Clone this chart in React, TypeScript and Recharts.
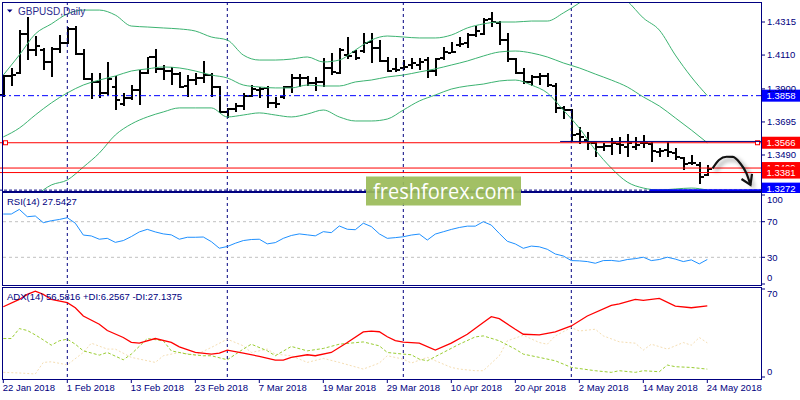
import React from 'react';
import { ComposedChart, Bar, Line, XAxis, YAxis, ReferenceLine } from 'recharts';

const FONT = '"Liberation Sans", Arial, sans-serif';
const NAVY = '#000080';

// ---------------- data ----------------
const tickIdx = [0, 8, 16, 24, 32, 40, 48, 56, 64, 72, 80, 88];
const tickLabels = ['22 Jan 2018', '1 Feb 2018', '13 Feb 2018', '23 Feb 2018', '7 Mar 2018', '19 Mar 2018', '29 Mar 2018', '10 Apr 2018', '20 Apr 2018', '2 May 2018', '14 May 2018', '24 May 2018'];
const separatorIdx = [8, 28, 50, 71];

const opens = [
  1.3862, 1.3980, 1.3999, 1.4241, 1.4141, 1.4141, 1.4067, 1.4148, 1.4185, 1.4272,
  1.4117, 1.3962, 1.3943, 1.3875, 1.3912, 1.3807, 1.3844, 1.3893, 1.3999, 1.4098,
  1.4024, 1.4011, 1.3993, 1.3918, 1.3955, 1.3968, 1.3986, 1.3912, 1.3757, 1.3776,
  1.3794, 1.3856, 1.3893, 1.3906, 1.3813, 1.3850, 1.3912, 1.3968, 1.3968, 1.3937,
  1.3943, 1.4030, 1.3999, 1.4110, 1.4129, 1.4135, 1.4191, 1.4154, 1.4073, 1.4024,
  1.4030, 1.4048, 1.4048, 1.4079, 1.4011, 1.4092, 1.4125, 1.4172, 1.4185, 1.4234,
  1.4241, 1.4334, 1.4309, 1.4203, 1.4086, 1.3999, 1.3943, 1.3974, 1.3980, 1.3918,
  1.3782, 1.3769, 1.3621, 1.3583, 1.3565, 1.3540, 1.3546, 1.3559, 1.3540, 1.3540,
  1.3565, 1.3559, 1.3509, 1.3521, 1.3503, 1.3472, 1.3441, 1.3429, 1.3366,
];
const highs = [
  1.3986, 1.4030, 1.4265, 1.4346, 1.4228, 1.4154, 1.4160, 1.4234, 1.4284, 1.4290,
  1.4148, 1.3999, 1.3999, 1.4067, 1.3980, 1.3875, 1.3924, 1.4017, 1.4098, 1.4148,
  1.4048, 1.4036, 1.4005, 1.3986, 1.3999, 1.4073, 1.3999, 1.3918, 1.3782, 1.3813,
  1.3875, 1.3924, 1.3912, 1.3918, 1.3850, 1.3918, 1.3993, 1.3993, 1.3980, 1.3974,
  1.4092, 1.4123, 1.4154, 1.4222, 1.4141, 1.4247, 1.4247, 1.4203, 1.4098, 1.4092,
  1.4079, 1.4092, 1.4092, 1.4098, 1.4092, 1.4160, 1.4191, 1.4222, 1.4247, 1.4290,
  1.4340, 1.4377, 1.4321, 1.4247, 1.4092, 1.4030, 1.3986, 1.3999, 1.3999, 1.3937,
  1.3794, 1.3775, 1.3664, 1.3633, 1.3571, 1.3565, 1.3596, 1.3602, 1.3621, 1.3602,
  1.3615, 1.3571, 1.3534, 1.3571, 1.3534, 1.3478, 1.3490, 1.3447, 1.3429,
];
const lows = [
  1.3850, 1.3918, 1.3993, 1.4079, 1.4104, 1.4017, 1.3974, 1.4123, 1.4179, 1.4110,
  1.3955, 1.3838, 1.3844, 1.3862, 1.3769, 1.3794, 1.3831, 1.3800, 1.3993, 1.3999,
  1.3955, 1.3924, 1.3906, 1.3850, 1.3924, 1.3937, 1.3850, 1.3751, 1.3720, 1.3757,
  1.3769, 1.3850, 1.3844, 1.3782, 1.3782, 1.3838, 1.3875, 1.3912, 1.3918, 1.3887,
  1.3912, 1.3986, 1.3993, 1.4086, 1.4079, 1.4123, 1.4061, 1.4067, 1.4005, 1.4005,
  1.4017, 1.4024, 1.4017, 1.3968, 1.3980, 1.4079, 1.4123, 1.4160, 1.4154, 1.4222,
  1.4234, 1.4284, 1.4172, 1.4067, 1.3993, 1.3931, 1.3918, 1.3924, 1.3912, 1.3751,
  1.3714, 1.3577, 1.3559, 1.3521, 1.3478, 1.3515, 1.3490, 1.3497, 1.3478, 1.3521,
  1.3534, 1.3447, 1.3478, 1.3478, 1.3459, 1.3397, 1.3429, 1.3311, 1.3360,
];
const closes = [
  1.3980, 1.3986, 1.4241, 1.4141, 1.4166, 1.4067, 1.4148, 1.4185, 1.4272, 1.4117,
  1.3962, 1.3943, 1.3875, 1.3962, 1.3831, 1.3844, 1.3893, 1.3999, 1.4098, 1.4024,
  1.4011, 1.3993, 1.3912, 1.3955, 1.3968, 1.3986, 1.3912, 1.3757, 1.3776, 1.3794,
  1.3856, 1.3900, 1.3900, 1.3813, 1.3808, 1.3912, 1.3968, 1.3966, 1.3937, 1.3943,
  1.4030, 1.4005, 1.4141, 1.4104, 1.4092, 1.4185, 1.4154, 1.4073, 1.4011, 1.4017,
  1.4036, 1.4061, 1.4067, 1.4011, 1.4086, 1.4129, 1.4129, 1.4179, 1.4234, 1.4259,
  1.4327, 1.4315, 1.4203, 1.4086, 1.3999, 1.3943, 1.3974, 1.3980, 1.3924, 1.3782,
  1.3769, 1.3615, 1.3602, 1.3565, 1.3540, 1.3546, 1.3565, 1.3552, 1.3565, 1.3552,
  1.3562, 1.3515, 1.3515, 1.3509, 1.3478, 1.3435, 1.3438, 1.3354, 1.3404,
];

const bbIdx = [0, 2, 4, 6, 8, 10, 12, 14, 16, 18, 20, 22, 24, 26, 28, 30, 32, 34, 36, 38, 40, 42, 44, 46, 48, 50, 52, 54, 56, 58, 60, 62, 64, 66, 68, 70, 72, 74, 76, 78, 80, 82, 84, 86, 88];
const bbUpper = [
  1.3986, 1.4110, 1.4241, 1.4303, 1.4365, 1.4389, 1.4389, 1.4358, 1.4290, 1.4284,
  1.4278, 1.4272, 1.4259, 1.4222, 1.4203, 1.4110, 1.4079, 1.4079, 1.4085, 1.4098,
  1.4067, 1.4079, 1.4141, 1.4203, 1.4228, 1.4222, 1.4216, 1.4216, 1.4234, 1.4278,
  1.4303, 1.4315, 1.4315, 1.4321, 1.4321, 1.4371, 1.4433, 1.4501, 1.4514, 1.4445,
  1.4340, 1.4265, 1.4110, 1.3974, 1.3858,
];
const bbMiddle = [
  1.3602, 1.3657, 1.3738, 1.3813, 1.3875, 1.3924, 1.3955, 1.3980, 1.4011, 1.4024,
  1.4036, 1.4030, 1.4011, 1.3986, 1.3968, 1.3924, 1.3912, 1.3906, 1.3906, 1.3924,
  1.3918, 1.3918, 1.3943, 1.3955, 1.3974, 1.3986, 1.4005, 1.4024, 1.4048, 1.4073,
  1.4104, 1.4129, 1.4135, 1.4123, 1.4098, 1.4061, 1.4030, 1.3992, 1.3955, 1.3912,
  1.3850, 1.3794, 1.3720, 1.3645, 1.3566,
];
const bbLower = [
  1.3180, 1.3211, 1.3242, 1.3304, 1.3335, 1.3415, 1.3502, 1.3614, 1.3682, 1.3726,
  1.3757, 1.3782, 1.3782, 1.3782, 1.3726, 1.3738, 1.3751, 1.3738, 1.3726, 1.3744,
  1.3769, 1.3726, 1.3701, 1.3701, 1.3713, 1.3769, 1.3825, 1.3862, 1.3899, 1.3918,
  1.3930, 1.3949, 1.3955, 1.3924, 1.3875, 1.3769, 1.3657, 1.3521, 1.3409, 1.3322,
  1.3285, 1.3273, 1.3279, 1.3285, 1.3272,
];

// forecast arrow drawn after the last bar
const arrowIdx = [88.67, 89.46, 90.4, 91.2, 92.1, 92.9, 93.4];
const arrowPrice = [1.3407, 1.3459, 1.3479, 1.3478, 1.3439, 1.3376, 1.3304];

const rsiValues = [
  78.6, 78.6, 83.8, 75.6, 76.4, 68.9, 71.1, 72.5, 74.5, 68.3,
  55.0, 54.0, 50.3, 51.3, 46.8, 48.8, 53.3, 58.5, 61.4, 58.5,
  56.3, 55.2, 50.3, 52.5, 52.5, 52.8, 47.6, 40.2, 42.1, 45.8,
  48.8, 50.0, 50.3, 45.1, 46.5, 51.3, 54.5, 56.3, 55.2, 54.1,
  58.8, 57.7, 65.2, 61.5, 61.0, 68.3, 64.5, 56.3, 51.3, 52.1,
  53.1, 55.0, 56.1, 49.4, 56.1, 58.7, 61.3, 63.5, 65.0, 65.0,
  70.0, 66.2, 56.8, 48.0, 45.0, 40.1, 42.6, 41.8, 39.0, 33.7,
  31.5, 26.3, 26.0, 25.2, 23.3, 26.3, 26.5, 25.5, 27.5, 28.5,
  30.1, 26.3, 27.5, 30.1, 28.0, 25.2, 27.1, 22.6, 27.54,
];

const adxPoints: [number, number][] = [
  [0, 55.9], [2, 61.7], [3, 65.7], [4, 68.3], [5, 65.7], [6, 61.7], [8, 59.1], [9, 55.1], [10, 48.5], [12, 42.0],
  [13, 37.0], [15, 31.4], [16, 27.5], [17, 26.9], [19, 30.6], [21, 27.5], [22, 24.0], [24, 19.5], [26, 18.2], [27, 19.0],
  [28, 21.4], [30, 19.0], [32, 16.4], [34, 13.4], [35, 13.4], [36, 15.6], [38, 17.7], [39, 16.9], [41, 19.5], [43, 27.5],
  [45, 35.9], [46, 36.5], [47, 36.0], [48, 32.0], [49, 29.0], [50, 27.7], [52, 26.9], [54, 21.4], [56, 26.9], [58, 34.0],
  [60, 43.3], [61, 48.0], [62, 46.4], [64, 38.0], [65, 34.0], [67, 33.5], [69, 35.9], [71, 40.6], [73, 48.5], [76, 56.9],
  [77, 58.2], [79, 61.7], [80, 60.9], [82, 62.5], [84, 56.4], [86, 55.1], [88, 56.58],
];
const plusDiPoints: [number, number][] = [
  [0, 30.6], [1, 30.6], [2, 38.5], [3, 37.0], [4, 33.5], [5, 29.5], [6, 25.3], [7, 28.8], [8, 30.1], [9, 26.1],
  [10, 20.8], [12, 17.4], [13, 19.5], [15, 13.7], [16, 18.2], [18, 30.6], [20, 28.8], [21, 20.8], [23, 18.2], [25, 16.9],
  [26, 16.9], [28, 13.7], [30, 22.2], [31, 26.1], [33, 20.8], [34, 16.9], [36, 24.3], [38, 20.8], [40, 22.7], [42, 26.1],
  [45, 27.9], [47, 24.8], [48, 19.5], [50, 18.2], [51, 17.7], [52, 14.2], [53, 12.9], [55, 19.5], [57, 26.1], [59, 31.9],
  [60, 32.7], [62, 28.8], [64, 22.2], [65, 18.2], [67, 15.6], [69, 12.9], [70, 10.3], [71, 7.6], [74, 5.0], [76, 3.7],
  [77, 5.0], [79, 3.7], [80, 5.0], [82, 4.2], [83, 9.5], [84, 8.2], [86, 7.6], [88, 6.26],
];
const minusDiPoints: [number, number][] = [
  [0, 3.7], [2, 3.2], [4, 2.4], [5, 11.6], [6, 12.1], [8, 9.7], [10, 19.5], [11, 26.9], [13, 22.2], [14, 22.2],
  [16, 15.6], [19, 11.6], [20, 16.9], [22, 19.5], [24, 17.4], [26, 23.5], [28, 30.1], [30, 24.8], [31, 19.5], [33, 22.2],
  [34, 18.2], [36, 16.9], [38, 11.6], [40, 14.8], [42, 11.6], [45, 6.3], [47, 11.1], [48, 16.9], [50, 14.2], [51, 11.1],
  [53, 15.6], [56, 7.6], [57, 6.3], [59, 5.0], [60, 5.0], [62, 16.9], [63, 28.8], [65, 33.2], [67, 27.4], [68, 26.1],
  [69, 32.7], [71, 39.3], [72, 36.6], [74, 38.0], [75, 32.7], [77, 28.0], [79, 26.9], [80, 21.4], [81, 26.1], [83, 22.2],
  [85, 27.4], [86, 25.3], [87, 31.4], [88, 27.14],
];

const priceTicks = [1.4315, 1.411, 1.39, 1.3695, 1.349];
const rsiTicks = [0, 30, 70, 100];
const adxTicks = [0, 70];

// ---------------- derived tables ----------------
const ohlcRows = opens.map((o, i) => ({ idx: i, open: o, high: highs[i], low: lows[i], close: closes[i] }));
const bbRows = bbIdx.map((idx, k) => ({ idx, upper: bbUpper[k], middle: bbMiddle[k], lower: bbLower[k] }));
const arrowRows = arrowIdx.map((idx, k) => ({ idx, v: arrowPrice[k] }));
const rsiRows = rsiValues.map((v, i) => ({ idx: i, rsi: v }));
const toRows = (pts: [number, number][]) => pts.map(([idx, v]) => ({ idx, v }));
const adxRows = toRows(adxPoints);
const plusRows = toRows(plusDiPoints);
const minusRows = toRows(minusDiPoints);

const X_DOMAIN: [number, number] = [-0.4125, 94.8375];
const PRICE_DOMAIN: [number, number] = [1.32666, 1.44391];

// ---------------- shapes ----------------
function OhlcShape(props: any) {
  const { x, y, width, height, payload } = props;
  if (!payload || !isFinite(y) || !isFinite(height)) return <g />;
  const top = Math.min(y, y + height);
  const h = Math.abs(height);
  const cx = Math.round(x + width / 2);
  const span = payload.high - payload.low;
  const py = (p: number) => top + ((payload.high - p) / span) * h;
  const yo = Math.round(py(payload.open));
  const yc = Math.round(py(payload.close));
  return (
    <g shapeRendering="crispEdges" fill="#000">
      <rect x={cx - 1} y={Math.round(top)} width={2} height={Math.max(2, Math.round(h))} />
      <rect x={cx - 4} y={yo - 1} width={3} height={2} />
      <rect x={cx + 1} y={yc - 1} width={3} height={2} />
    </g>
  );
}

function PriceTag(props: any) {
  const { viewBox, text, color, squares, shift } = props;
  if (!viewBox) return null;
  const y = viewBox.y + (shift || 0);
  const right = viewBox.x + viewBox.width;
  return (
    <g>
      {squares ? (
        <g>
          <rect x={viewBox.x + 3.5} y={viewBox.y - 2} width={4} height={4} fill="#fff" stroke={color} strokeWidth={1} />
          <rect x={right - 6.5} y={viewBox.y - 2} width={4} height={4} fill="#fff" stroke={color} strokeWidth={1} />
        </g>
      ) : null}
      <rect x={right} y={y - 6} width={38} height={12} fill={color} />
      <text x={right + 4.5} y={y} dy="0.36em" fill="#fff" fontSize={9.5} fontFamily={FONT}>{text}</text>
    </g>
  );
}

const ArrowHead = (props: any) => {
  const { cx, cy, index } = props;
  if (index !== arrowRows.length - 1 || cx == null) return <g key={`ah-${index}`} />;
  return (
    <path key={`ah-${index}`} d={`M${cx - 9},${cy - 6} L${cx},${cy} L${cx + 1.5},${cy - 11}`} fill="none" stroke="#111" strokeWidth={2.2} />
  );
};

const priceTick = (p: any) => (
  <text x={p.x} y={p.y} dy="0.35em" fill={NAVY} fontSize={9.5} fontFamily={FONT}>{Number(p.payload.value).toFixed(4)}</text>
);
const rsiTick = (p: any) => {
  const v = p.payload.value;
  const dy = v === 100 ? 4.5 : v === 0 ? -6 : 0;
  return <text x={p.x} y={p.y + dy} dy="0.35em" fill={NAVY} fontSize={9.5} fontFamily={FONT}>{v}</text>;
};
const adxTick = (p: any) => {
  const v = p.payload.value;
  const dy = v === 70 ? 5 : -5;
  return <text x={p.x} y={p.y + dy} dy="0.35em" fill={NAVY} fontSize={9.5} fontFamily={FONT}>{v}</text>;
};
const dateTick = (p: any) => {
  const k = tickIdx.indexOf(p.payload.value);
  return (
    <g>
      <line x1={p.x} x2={p.x} y1={p.y + 2} y2={p.y + 6} stroke={NAVY} strokeWidth={1} />
      <text x={p.x - 0.5} y={p.y + 10.5} dy="0.35em" fill={NAVY} fontSize={9.5} fontFamily={FONT} textAnchor="start">{k >= 0 ? tickLabels[k] : ''}</text>
    </g>
  );
};

const separators = (key: string) =>
  separatorIdx.map((s) => (
    <ReferenceLine key={`${key}-${s}`} x={s} stroke={NAVY} strokeDasharray="3 3" strokeWidth={1} />
  ));

const shadowLine = (props: any) => (
  <line x1={props.x1} y1={props.y1} x2={props.x2} y2={props.y2} stroke="#0000FF" strokeWidth={2}
    style={{ filter: 'drop-shadow(2px 3px 2px rgba(0,0,0,0.45))' }} />
);

export default function App() {
  return (
    <div style={{ position: 'absolute', left: 0, top: 0, width: 800, height: 400, background: '#fff', overflow: 'hidden' }}>
      <style>{`.arrow-shadow path { filter: drop-shadow(3px 3px 2px rgba(0,0,0,0.45)); }`}</style>

      {/* main price panel */}
      <div style={{ position: 'absolute', left: 0, top: 0 }}>
        <ComposedChart width={800} height={193} data={ohlcRows} margin={{ top: 2, right: 0, bottom: 2, left: 0 }}>
          <XAxis type="number" dataKey="idx" domain={X_DOMAIN} allowDataOverflow hide />
          <YAxis orientation="right" width={38} domain={PRICE_DOMAIN} allowDataOverflow ticks={priceTicks}
            interval={0} axisLine={false} tickLine={{ stroke: NAVY }} tickSize={3} tickMargin={2} tick={priceTick} />
          {separators('m')}
          <ReferenceLine y={1.3858} stroke="#0000FF" strokeDasharray="6 3 2 3" strokeWidth={1}
            label={<PriceTag text="1.3858" color="#0000FF" />} />
          <ReferenceLine y={1.3272} stroke={NAVY} strokeDasharray="3 2" strokeWidth={1} />
          <Line data={bbRows} dataKey="upper" type="monotone" stroke="#3CB371" strokeWidth={1} dot={false} isAnimationActive={false} />
          <Line data={bbRows} dataKey="middle" type="monotone" stroke="#3CB371" strokeWidth={1} dot={false} isAnimationActive={false} />
          <Line data={bbRows} dataKey="lower" type="monotone" stroke="#3CB371" strokeWidth={1} dot={false} isAnimationActive={false} />
          <Bar dataKey={(d: any) => [d.low, d.high]} barSize={3} shape={OhlcShape} isAnimationActive={false} />
          <ReferenceLine y={1.3566} stroke="#FF0000" strokeWidth={1}
            label={<PriceTag text="1.3566" color="#FF0000" squares />} />
          <ReferenceLine segment={[{ x: 69.6, y: 1.3574 }, { x: 94.8, y: 1.3574 }]} stroke={NAVY} strokeWidth={1} />
          <ReferenceLine y={1.3409} stroke="#FF0000" strokeWidth={1}
            label={<PriceTag text="1.3409" color="#FF0000" />} />
          <ReferenceLine y={1.3381} stroke="#FF0000" strokeWidth={1}
            label={<PriceTag text="1.3381" color="#FF0000" />} />
          <ReferenceLine segment={[{ x: 80.8, y: 1.3272 }, { x: 94.8, y: 1.3272 }]} shape={shadowLine} />
          <ReferenceLine y={1.3272} stroke="transparent"
            label={<PriceTag text="1.3272" color="#0000FF" shift={-1.5} />} />
          <Line data={arrowRows} dataKey="v" type="monotone" stroke="#111" strokeWidth={2.2}
            dot={ArrowHead} className="arrow-shadow" isAnimationActive={false} />
        </ComposedChart>
      </div>

      {/* RSI panel */}
      <div style={{ position: 'absolute', left: 0, top: 193 }}>
        <ComposedChart width={800} height={93} data={rsiRows} margin={{ top: 2, right: 0, bottom: 2, left: 0 }}>
          <XAxis type="number" dataKey="idx" domain={X_DOMAIN} allowDataOverflow hide />
          <YAxis orientation="right" width={38} domain={[0, 100]} allowDataOverflow ticks={rsiTicks} interval={0}
            axisLine={false} tickLine={{ stroke: NAVY }} tickSize={3} tickMargin={2} tick={rsiTick} />
          <ReferenceLine y={70} stroke="#C0C0C0" strokeDasharray="3 3" />
          <ReferenceLine y={30} stroke="#C0C0C0" strokeDasharray="3 3" />
          {separators('r')}
          <Line dataKey="rsi" type="linear" stroke="#1E90FF" strokeWidth={1} dot={false} isAnimationActive={false} />
        </ComposedChart>
      </div>

      {/* ADX panel */}
      <div style={{ position: 'absolute', left: 0, top: 288 }}>
        <ComposedChart width={800} height={112} data={adxRows} margin={{ top: 1, right: 0, bottom: 0, left: 0 }}>
          <XAxis type="number" dataKey="idx" domain={X_DOMAIN} allowDataOverflow ticks={tickIdx} interval={0}
            height={23} axisLine={false} tickLine={false} tickSize={0} tickMargin={0} tick={dateTick} />
          <YAxis orientation="right" width={38} domain={[0, 70]} allowDataOverflow ticks={adxTicks} interval={0}
            axisLine={false} tickLine={{ stroke: NAVY }} tickSize={3} tickMargin={2} tick={adxTick} />
          {separators('a')}
          <Line data={minusRows} dataKey="v" type="linear" stroke="#F5DEB3" strokeWidth={1} strokeDasharray="2 2" dot={false} isAnimationActive={false} />
          <Line data={plusRows} dataKey="v" type="linear" stroke="#9ACD32" strokeWidth={1} strokeDasharray="3 2" dot={false} isAnimationActive={false} />
          <Line dataKey="v" type="linear" stroke="#FF0000" strokeWidth={1.3} dot={false} isAnimationActive={false} />
        </ComposedChart>
      </div>

      {/* frame, titles and watermark */}
      <svg width={800} height={400} style={{ position: 'absolute', left: 0, top: 0, pointerEvents: 'none' }}>
        <g fill="none" stroke={NAVY} strokeWidth={1}>
          <rect x={2.5} y={2.5} width={759} height={189} />
          <rect x={2.5} y={192.5} width={759} height={93} />
          <rect x={2.5} y={287.5} width={759} height={92} />
        </g>
        <polygon points="7,9.5 12.5,9.5 9.75,12.5" fill={NAVY} />
        <text x={18} y={14.5} fill="#2a2a8c" fontSize={10} fontFamily={FONT}>GBPUSD,Daily</text>
        <text x={7} y={205} fill={NAVY} fontSize={9.5} fontFamily={FONT}>RSI(14) 27.5427</text>
        <text x={7} y={300} fill={NAVY} fontSize={9.5} fontFamily={FONT}>ADX(14) 56.5816 +DI:6.2567 -DI:27.1375</text>
        <rect x={366} y={176.5} width={155} height={29} fill="#9BBB59" opacity={0.93} />
        <text x={373} y={198.5} fill="#fff" fontSize={22} fontFamily='"Open Sans", "DejaVu Sans", sans-serif'
          textLength={142} lengthAdjust="spacingAndGlyphs">freshforex.com</text>
      </svg>
    </div>
  );
}
